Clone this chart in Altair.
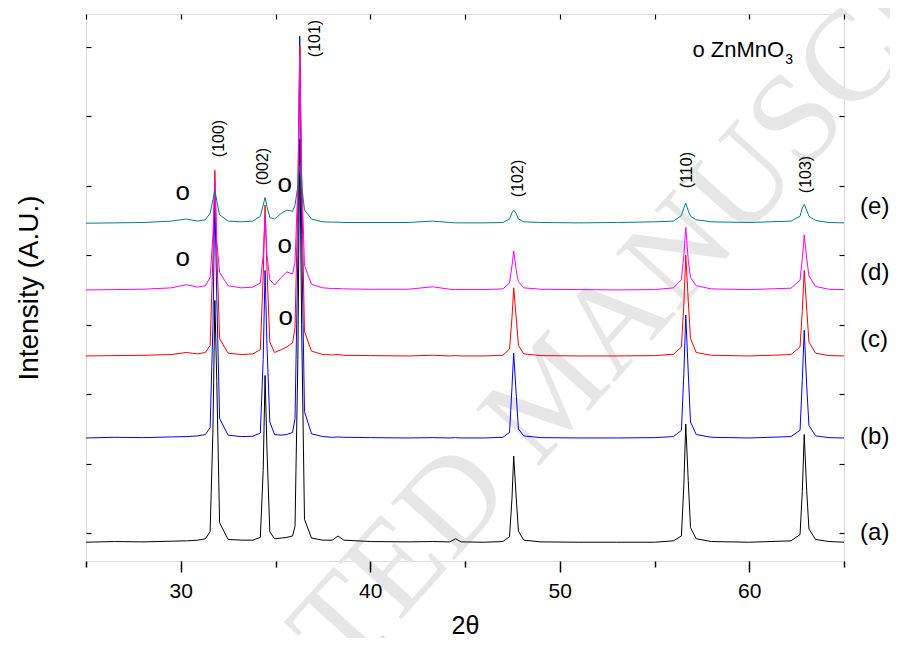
import altair as alt
import pandas as pd

# ---- data (2theta grid shared by all traces) ----
two_theta = [25.0, 26.5, 28.0, 29.5, 30.3, 30.9, 31.3, 31.55, 31.7, 31.8, 31.9, 32.05, 32.5, 33.2,
             33.8, 34.2, 34.35, 34.45, 34.55, 34.7, 34.95, 35.3, 35.6, 35.9, 36.03, 36.18, 36.28,
             36.38, 36.53, 36.9, 37.5, 38.0, 38.3, 38.6, 40.0, 42.0, 43.3, 44.2, 44.5, 44.8, 46.0,
             47.0, 47.35, 47.48, 47.57, 47.7, 47.82, 48.1, 49.0, 51.0, 53.0, 55.0, 56.0, 56.42,
             56.55, 56.65, 56.78, 56.9, 57.2, 58.0, 60.0, 62.2, 62.68, 62.8, 62.9, 63.03, 63.15,
             63.5, 64.2, 65.0]

trace_a = [-130, -120, -125, -115, -110, -100, -80, 20, 1500, 3350, 2200, 150, -90, -100,
           -100, -60, 900, 2270, 1200, 20, -80, -70, -60, -40, 100, 2500, 5670,
           3000, 200, -70, -100, -100, -40, -100, -120, -125, -120, -125, -80, -125, -130,
           -120, -50, 500, 1110, 520, 30, -100, -125, -130, -130, -130, -110, -40,
           700, 1570, 760, 80, -80, -120, -130, -110, -20, 600, 1420, 620, 60,
           -90, -120, -130]

trace_b = [1370, 1380, 1375, 1385, 1390, 1400, 1420, 1520, 3000, 4850, 3400, 1650, 1410, 1390,
           1395, 1440, 2500, 3780, 2700, 1600, 1420, 1410, 1420, 1450, 1650, 4000, 7150,
           4300, 1750, 1430, 1390, 1380, 1385, 1380, 1375, 1370, 1375, 1370, 1375, 1370, 1370,
           1380, 1450, 2100, 2590, 2010, 1500, 1400, 1375, 1370, 1370, 1375, 1390, 1480,
           2300, 3140, 2320, 1600, 1420, 1380, 1370, 1390, 1480, 2200, 2920, 2130, 1550,
           1400, 1375, 1370]

trace_c = [2550, 2555, 2560, 2570, 2600, 2580, 2600, 2700, 4000, 5220, 4100, 2800, 2590, 2570,
           2580, 2640, 3700, 4720, 3800, 2750, 2600, 2640, 2680, 2740, 2950, 4800, 7020,
           5000, 2900, 2620, 2570, 2565, 2570, 2560, 2555, 2550, 2560, 2550, 2555, 2550, 2550,
           2560, 2650, 3100, 3530, 3110, 2700, 2580, 2555, 2550, 2550, 2555, 2575, 2680,
           3300, 4000, 3350, 2800, 2600, 2560, 2550, 2570, 2680, 3200, 3780, 3240, 2750,
           2590, 2555, 2550]

trace_d = [3500, 3505, 3510, 3530, 3575, 3540, 3560, 3680, 4300, 5080, 4200, 3750, 3560, 3530,
           3540, 3600, 4000, 4580, 4000, 3650, 3570, 3680, 3760, 3730, 3900, 5000, 6880,
           5200, 3850, 3580, 3530, 3520, 3520, 3515, 3510, 3510, 3545, 3510, 3505, 3505, 3505,
           3515, 3600, 3850, 4060, 3790, 3620, 3530, 3510, 3505, 3500, 3505, 3530, 3650,
           4000, 4400, 3930, 3680, 3560, 3515, 3505, 3525, 3640, 3950, 4290, 3960, 3700,
           3550, 3510, 3505]

trace_e = [4460, 4465, 4470, 4490, 4520, 4490, 4510, 4600, 4800, 4940, 4780, 4580, 4490, 4480,
           4490, 4560, 4720, 4830, 4700, 4540, 4520, 4600, 4650, 4630, 4720, 5000, 5290,
           5000, 4650, 4520, 4480, 4475, 4475, 4470, 4470, 4470, 4490, 4470, 4465, 4465, 4465,
           4470, 4520, 4610, 4650, 4600, 4520, 4480, 4470, 4465, 4470, 4480, 4490, 4570,
           4680, 4750, 4640, 4560, 4510, 4480, 4470, 4490, 4560, 4680, 4730, 4650, 4560,
           4500, 4470, 4465]

samples = ["a", "b", "c", "d", "e"]
sample_colors = ["#000000", "#0000ff", "#ff0000", "#ff00ff", "#008080"]

peak_labels = ["(100)", "(002)", "(101)", "(102)", "(110)", "(103)"]
peak_label_x = [32.0, 34.33, 37.1, 47.8, 56.7, 63.0]
peak_label_y = [5410, 5007, 6849, 4835, 4964, 4892]

marker_text = ["o", "o", "o", "o", "o"]
marker_x = [30.11, 30.11, 35.49, 35.49, 35.54]
marker_y = [4906, 3957, 5022, 4144, 3108]

sample_labels = ["(a)", "(b)", "(c)", "(d)", "(e)"]
sample_label_x = [65.85, 65.85, 65.85, 65.85, 65.85]
sample_label_y = [0, 1381, 2777, 3741, 4691]

legend_text = ["o ZnMnO"]
legend_x = [57.0]
legend_y = [6950]
legend_sub = ["3"]
legend_sub_x = [61.9]
legend_sub_y = [6810]

watermark_text = ["ACCEPTED MANUSCRIPT"]
watermark_x = [49.6]
watermark_y = [2014]

x_ticks = [25, 30, 35, 40, 45, 50, 55, 60, 65]
y_ticks = [0, 1000, 2000, 3000, 4000, 5000, 6000, 7000]

# ---- tables ----
traces = [trace_a, trace_b, trace_c, trace_d, trace_e]
rows = []
for s, tr in zip(samples, traces):
    for t, v in zip(two_theta, tr):
        rows.append({"theta": t, "I": v, "sample": s})
df = pd.DataFrame(rows)

df_peaks = pd.DataFrame({"x": peak_label_x, "y": peak_label_y, "t": peak_labels})
df_mark = pd.DataFrame({"x": marker_x, "y": marker_y, "t": marker_text})
df_samp = pd.DataFrame({"x": sample_label_x, "y": sample_label_y, "t": sample_labels})
df_leg = pd.DataFrame({"x": legend_x, "y": legend_y, "t": legend_text})
df_sub = pd.DataFrame({"x": legend_sub_x, "y": legend_sub_y, "t": legend_sub})
df_wm = pd.DataFrame({"x": watermark_x, "y": watermark_y, "t": watermark_text})

FONT = "Liberation Sans"
xscale = alt.Scale(domain=[25, 65], nice=False, zero=False)
yscale = alt.Scale(domain=[-400, 7470], nice=False, zero=False)

major_test = "datum.value % 10 == 0 && datum.value > 25 && datum.value < 65"

x_bottom = alt.Axis(
    orient="bottom", values=x_ticks, grid=False, domain=False, zindex=1,
    labelExpr="(" + major_test + ") ? datum.label : ''",
    tickSize={"condition": {"test": major_test, "value": 11}, "value": 6},
    tickColor="black", tickWidth=1.5,
    labelFont=FONT, labelFontSize=21, labelColor="black", labelPadding=8,
    title="2θ", titleFont=FONT, titleFontSize=25, titleFontWeight="normal",
    titleColor="black", titlePadding=12,
)
y_left = alt.Axis(
    orient="left", values=y_ticks, grid=False, domain=False, labels=False, zindex=1,
    offset=-5, tickSize=5, tickColor="black", tickWidth=1.2,
    title="Intensity (A.U.)", titleFont=FONT, titleFontSize=28, titleFontWeight="normal",
    titleColor="black", titlePadding=42,
)
x_top = alt.Axis(
    orient="top", values=x_ticks, grid=False, domain=False, labels=False, zindex=1,
    offset=-5, tickSize=5, tickColor="black", tickWidth=1.2, title=None,
)
y_right = alt.Axis(
    orient="right", values=y_ticks, grid=False, domain=False, labels=False, zindex=1,
    offset=-5, tickSize=5, tickColor="black", tickWidth=1.2, title=None,
)


def txt_layer(data, **mark_kw):
    return alt.Chart(data).mark_text(**mark_kw).encode(
        x=alt.X("x:Q", scale=xscale, axis=None),
        y=alt.Y("y:Q", scale=yscale, axis=None),
        text="t:N",
    )


watermark = txt_layer(df_wm, font="Liberation Serif", fontSize=130, color="#e6e6e6",
                      angle=312, align="center", baseline="middle")

lines = alt.Chart(df).mark_line(strokeWidth=1).encode(
    x=alt.X("theta:Q", scale=xscale, axis=x_bottom),
    y=alt.Y("I:Q", scale=yscale, axis=y_left),
    color=alt.Color("sample:N", scale=alt.Scale(domain=samples, range=sample_colors), legend=None),
    order=alt.Order("theta:Q"),
)

frame_axes = alt.Chart(df).mark_point(opacity=0).encode(
    x=alt.X("theta:Q", scale=xscale, axis=x_top),
    y=alt.Y("I:Q", scale=yscale, axis=y_right),
)

peaks = txt_layer(df_peaks, font=FONT, fontSize=16, color="black", angle=270,
                  align="left", baseline="middle")
markers = txt_layer(df_mark, font=FONT, fontSize=26, color="black",
                    align="center", baseline="middle")
samp = txt_layer(df_samp, font=FONT, fontSize=24, color="black",
                 align="left", baseline="middle")
leg = txt_layer(df_leg, font=FONT, fontSize=22, color="black",
                align="left", baseline="middle")
sub = txt_layer(df_sub, font=FONT, fontSize=14, color="black",
                align="left", baseline="middle")

chart = alt.layer(watermark, lines, frame_axes, peaks, markers, samp, leg, sub).resolve_axis(
    x="independent", y="independent"
).properties(
    width=758, height=547,
    autosize=alt.AutoSizeParams(type="none"),
    padding={"left": 78, "top": 6, "right": 46, "bottom": 77},
).configure_view(stroke="black", strokeWidth=1.5).configure(font=FONT)

chart.save("out.html", embed_options={"renderer": "svg", "actions": False})
